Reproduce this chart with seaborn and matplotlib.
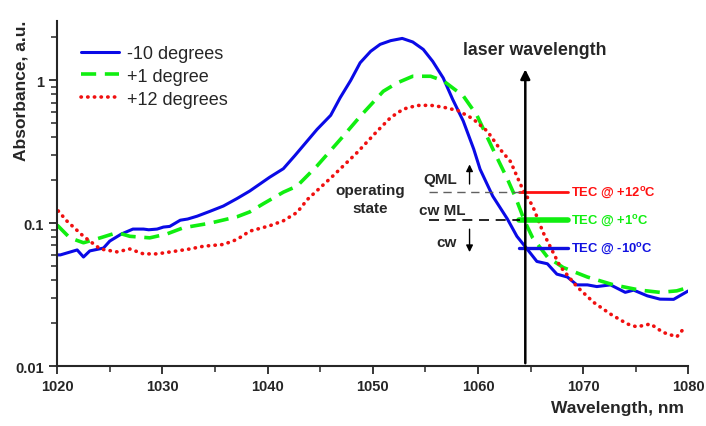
import matplotlib
matplotlib.use("Agg")
import matplotlib.pyplot as plt
import numpy as np
import pandas as pd
import seaborn as sns

# -10 degrees (blue)
wl_blue = [1020, 1020.3, 1021.9, 1022.5, 1023.1, 1024.4, 1025, 1026.1, 1027.2, 1028.2,
           1028.7, 1029.5, 1030.1, 1030.7, 1031.7, 1032.4, 1033.3, 1034.5, 1035.8, 1037.1,
           1038.3, 1040.2, 1041.5, 1042.6, 1044.7, 1046, 1046.9, 1047.9, 1048.8, 1049.8,
           1050.7, 1051.7, 1052.8, 1053.8, 1054.8, 1055.7, 1056.7, 1057.6, 1058.6, 1059.6,
           1060.2, 1061.4, 1062.8, 1063.7, 1064.6, 1065.6, 1066.6, 1067.5, 1068.5, 1069.4,
           1070.4, 1071.3, 1072.6, 1074, 1074.8, 1076.1, 1077.3, 1078.6, 1080]
ab_blue = [0.060, 0.060, 0.065, 0.058, 0.064, 0.067, 0.075, 0.084, 0.091, 0.091,
           0.090, 0.091, 0.094, 0.095, 0.105, 0.107, 0.112, 0.121, 0.132, 0.149,
           0.168, 0.210, 0.241, 0.298, 0.454, 0.57, 0.757, 1.0, 1.33, 1.60,
           1.79, 1.90, 1.97, 1.86, 1.65, 1.36, 1.04, 0.736, 0.52, 0.33,
           0.239, 0.155, 0.107, 0.081, 0.067, 0.054, 0.052, 0.044, 0.042, 0.037,
           0.037, 0.036, 0.037, 0.0328, 0.034, 0.031, 0.0294, 0.0293, 0.0336]

# +1 degree (green)
wl_green = [1020, 1021.2, 1022.5, 1024.1, 1025.7, 1026.9, 1028.8, 1030.4, 1032, 1034.5,
            1037.1, 1038.3, 1039.6, 1041.5, 1042.8, 1044.7, 1047.2, 1048.8, 1051, 1052.3,
            1053.8, 1055.5, 1056.7, 1058.6, 1059.9, 1061.6, 1062.8, 1063.6, 1064.4, 1065.2,
            1066.6, 1068.1, 1070.4, 1072.9, 1075.4, 1077.3, 1078.9, 1080]
ab_green = [0.097, 0.079, 0.073, 0.079, 0.086, 0.081, 0.079, 0.084, 0.093, 0.100,
            0.111, 0.120, 0.137, 0.165, 0.182, 0.252, 0.408, 0.56, 0.84, 0.96,
            1.07, 1.07, 0.995, 0.78, 0.57, 0.31, 0.204, 0.15, 0.105, 0.079,
            0.058, 0.049, 0.042, 0.037, 0.034, 0.0328, 0.0336, 0.0355]

# +12 degrees (red)
wl_red = [1020.1, 1020.9, 1022.5, 1024.1, 1025.7, 1026.9, 1028.2, 1029.5, 1031.4, 1032.6,
          1033.9, 1035.8, 1037.1, 1038.3, 1040.2, 1041.5, 1042.8, 1043.8, 1046.2, 1048.5,
          1050.4, 1051.7, 1052.9, 1054.2, 1055.5, 1056.7, 1058.1, 1059.5, 1060.9, 1062.1,
          1063.1, 1064, 1064.4, 1065.2, 1066.2, 1067.8, 1069.4, 1071, 1072.6, 1074.2,
          1075.1, 1076.4, 1077.6, 1078.9, 1079.7]
ab_red = [0.122, 0.104, 0.081, 0.066, 0.063, 0.066, 0.061, 0.061, 0.064, 0.066,
          0.069, 0.071, 0.077, 0.088, 0.096, 0.104, 0.119, 0.147, 0.214, 0.312,
          0.44, 0.55, 0.63, 0.668, 0.67, 0.65, 0.615, 0.54, 0.44, 0.33,
          0.27, 0.19, 0.165, 0.132, 0.086, 0.050, 0.036, 0.0279, 0.0231, 0.0197,
          0.0188, 0.0197, 0.0172, 0.016, 0.0188]

laser_wl = 1064.5
tec_levels = [0.165, 0.105, 0.067]
tec_labels = [r"TEC @ +12$^\mathbf{o}$C", r"TEC @ +1$^\mathbf{o}$C", r"TEC @ -10$^\mathbf{o}$C"]
tec_colors = ["#ff1010", "#10ee10", "#1010e0"]

sns.set_style("ticks")
plt.rcParams["font.family"] = ["Liberation Sans", "DejaVu Sans"]
plt.rcParams["mathtext.fontset"] = "custom"
plt.rcParams["mathtext.bf"] = "Liberation Sans:bold"

fig = plt.figure(figsize=(7.06, 4.27), dpi=100)
ax = fig.add_axes([0.081, 0.1405, 0.894, 0.8075])

df_b = pd.DataFrame({"wl": wl_blue, "ab": ab_blue})
df_g = pd.DataFrame({"wl": wl_green, "ab": ab_green})
df_r = pd.DataFrame({"wl": wl_red, "ab": ab_red})

sns.lineplot(data=df_b, x="wl", y="ab", ax=ax, color="#0a0ae6", lw=2.2, label="-10 degrees")
sns.lineplot(data=df_g, x="wl", y="ab", ax=ax, color="#10ee10", lw=2.6,
             label="+1 degree", linestyle=(0, (4.2, 2.4)))
sns.lineplot(data=df_r, x="wl", y="ab", ax=ax, color="#f01010", lw=2.6,
             label="+12 degrees", linestyle=(0, (0.1, 1.75)), dash_capstyle="round")

ax.set_yscale("log")
ax.set_xlim(1020, 1080)
ax.set_ylim(0.01, 2.6)
ax.set_xticks([1020, 1030, 1040, 1050, 1060, 1070, 1080])
ax.set_xticks(np.arange(1025, 1080, 10), minor=True)
ax.set_yticks([0.01, 0.1, 1])
ax.set_yticklabels(["0.01", "0.1", "1"])
ax.tick_params(axis="both", which="major", length=6, width=1.3, labelsize=10.5)
ax.tick_params(axis="both", which="minor", length=4, width=1.1)
for lab in ax.get_xticklabels() + ax.get_yticklabels():
    lab.set_fontweight("bold")
sns.despine(ax=ax)
for sp in ["left", "bottom"]:
    ax.spines[sp].set_linewidth(1.5)

ax.set_xlabel("Wavelength, nm", fontsize=12.5, fontweight="bold")
ax.set_ylabel("Absorbance, a.u.", fontsize=12.5, fontweight="bold")
ax.xaxis.set_label_coords(0.887, -0.1)
ax.yaxis.set_label_coords(-0.045, 0.8)

leg = ax.legend(loc="upper left", bbox_to_anchor=(0.012, 0.978), frameon=False,
                fontsize=13, handlelength=2.1, handletextpad=0.45, labelspacing=0.32)

# laser wavelength arrow
ax.annotate("", xy=(laser_wl, 1.25), xytext=(laser_wl, 0.01),
            arrowprops=dict(arrowstyle="-|>", color="black", lw=1.8, mutation_scale=14))
ax.text(1065.4, 1.65, "laser wavelength", ha="center", va="center",
        fontsize=12.8, fontweight="bold")

# TEC operating points
tec_widths = [2.0, 4.0, 2.4]
for lvl, lab, col, w in zip(tec_levels, tec_labels, tec_colors, tec_widths):
    ax.plot([1063.9, 1068.6], [lvl, lvl], color=col, lw=w)
    ax.text(1068.8, lvl, lab, color=col, fontsize=9.4, fontweight="bold", va="center")

ax.plot([1055.3, 1064.4], [0.165, 0.165], color="#606060", lw=1.0, linestyle=(0, (6, 4)))
ax.plot([1055.3, 1064.0], [0.105, 0.105], color="black", lw=1.2, linestyle=(0, (6, 4)))

ax.annotate("", xy=(1059.2, 0.27), xytext=(1059.2, 0.18),
            arrowprops=dict(arrowstyle="-|>", color="black", lw=1.0, mutation_scale=10))
ax.annotate("", xy=(1059.2, 0.06), xytext=(1059.2, 0.095),
            arrowprops=dict(arrowstyle="-|>", color="black", lw=1.0, mutation_scale=10))

ax.text(1056.4, 0.205, "QML", ha="center", va="center", fontsize=11, fontweight="bold")
ax.text(1056.6, 0.124, "cw ML", ha="center", va="center", fontsize=11, fontweight="bold")
ax.text(1057.0, 0.074, "cw", ha="center", va="center", fontsize=11, fontweight="bold")
ax.text(1049.8, 0.148, "operating\nstate", ha="center", va="center", fontsize=11,
        fontweight="bold", linespacing=1.3)

fig.savefig("out.png", dpi=100)
